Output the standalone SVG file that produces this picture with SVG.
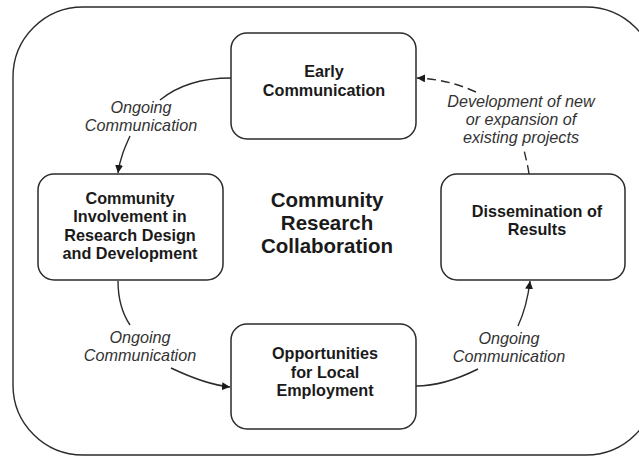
<svg xmlns="http://www.w3.org/2000/svg" width="639" height="456" viewBox="0 0 639 456">
  <style>
    .frame { fill: none; stroke: #2b2b2b; stroke-width: 1.4; }
    .box { fill: #ffffff; stroke: #2b2b2b; stroke-width: 1.5; }
    .lbl { font-family: "Liberation Sans", Arial, sans-serif; font-weight: bold; font-size: 16.2px; fill: #1a1a1a; text-anchor: middle; }
    .title { font-family: "Liberation Sans", Arial, sans-serif; font-weight: bold; font-size: 20.5px; fill: #1a1a1a; text-anchor: middle; }
    .edge { font-family: "Liberation Sans", Arial, sans-serif; font-style: italic; font-size: 16.2px; fill: #333333; text-anchor: middle; }
    .link { fill: none; stroke: #2b2b2b; stroke-width: 1.4; }
    .dash { stroke-dasharray: 9 5; }
  </style>
  <defs>
    <marker id="arrow" viewBox="0 0 10 10" refX="10" refY="5" markerWidth="8" markerHeight="8" markerUnits="userSpaceOnUse" orient="auto">
      <path d="M0,0 L10,5 L0,10 Z" fill="#1a1a1a"/>
    </marker>
  </defs>

  <rect width="639" height="456" fill="#ffffff"/>

  <!-- outer frame -->
  <rect class="frame" x="13" y="7" width="643" height="448" rx="70" ry="70"/>

  <!-- center title -->
  <g id="title">
    <text class="title" x="327" y="207">Community</text>
    <text class="title" x="327" y="230">Research</text>
    <text class="title" x="327" y="253">Collaboration</text>
  </g>

  <!-- connectors -->
  <g id="connectors">
    <path class="link" d="M231,78 C200,78 176,87 160,100"/>
    <path class="link" d="M130,136 C125,147 120,158 118,173" marker-end="url(#arrow)"/>

    <path class="link" d="M118,281 C118,300 122,313 130,325"/>
    <path class="link" d="M171,368 C190,377 210,385 230,387" marker-end="url(#arrow)"/>

    <path class="link" d="M416,386 C440,386 460,378 478,369"/>
    <path class="link" d="M518,326 C524,313 528,298 530,281" marker-end="url(#arrow)"/>

    <path class="link dash" d="M529,174 C528,166 526,159 524,150"/>
    <path class="link dash" d="M476,92 C458,84 440,79 417,78" marker-end="url(#arrow)"/>

    <g id="edge-labels">
      <text class="edge" x="141" y="113">Ongoing</text>
      <text class="edge" x="141" y="131">Communication</text>
      <text class="edge" x="140" y="343">Ongoing</text>
      <text class="edge" x="140" y="361">Communication</text>
      <text class="edge" x="509" y="344">Ongoing</text>
      <text class="edge" x="509" y="362">Communication</text>
      <text class="edge" x="521" y="107">Development of new</text>
      <text class="edge" x="521" y="125">or expansion of</text>
      <text class="edge" x="521" y="143">existing projects</text>
    </g>
  </g>

  <g id="early-communication">
    <rect class="box" x="231" y="33" width="185" height="106" rx="16" ry="16"/>
    <text class="lbl" x="324" y="77">Early</text>
    <text class="lbl" x="324" y="96">Communication</text>
  </g>

  <g id="community-involvement">
    <rect class="box" x="38" y="174" width="185" height="106" rx="16" ry="16"/>
    <text class="lbl" x="130" y="204">Community</text>
    <text class="lbl" x="130" y="222">Involvement in</text>
    <text class="lbl" x="130" y="241">Research Design</text>
    <text class="lbl" x="130" y="259">and Development</text>
  </g>

  <g id="local-employment">
    <rect class="box" x="231" y="324" width="185" height="105" rx="16" ry="16"/>
    <text class="lbl" x="325" y="359">Opportunities</text>
    <text class="lbl" x="325" y="378">for Local</text>
    <text class="lbl" x="325" y="396">Employment</text>
  </g>

  <g id="dissemination">
    <rect class="box" x="441" y="174" width="184" height="106" rx="16" ry="16"/>
    <text class="lbl" x="537" y="217">Dissemination of</text>
    <text class="lbl" x="537" y="235">Results</text>
  </g>
</svg>
